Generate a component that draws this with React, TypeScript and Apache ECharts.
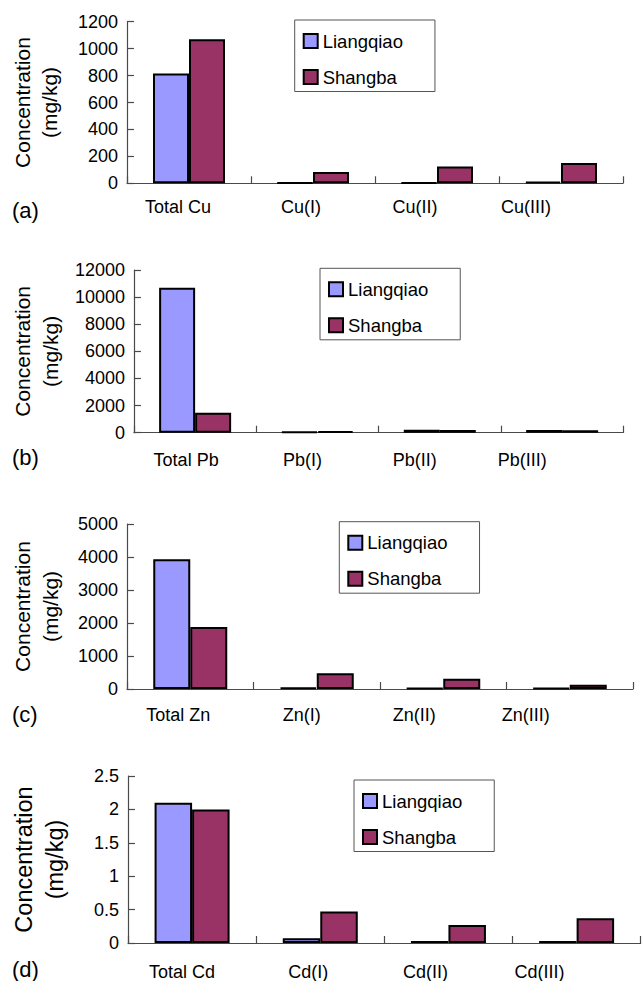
import React, { useEffect, useRef } from "react";
import * as echarts from "echarts";

// ---------- data ----------
const SERIES_NAMES = ["Liangqiao", "Shangba"];

const CU_CATEGORIES = ["Total Cu", "Cu(I)", "Cu(II)", "Cu(III)"];
const CU_LIANGQIAO = [815, 3, 5, 12];
const CU_SHANGBA = [1070, 84, 124, 151];

const PB_CATEGORIES = ["Total Pb", "Pb(I)", "Pb(II)", "Pb(III)"];
const PB_LIANGQIAO = [10700, 60, 210, 200];
const PB_SHANGBA = [1480, 110, 190, 180];

const ZN_CATEGORIES = ["Total Zn", "Zn(I)", "Zn(II)", "Zn(III)"];
const ZN_LIANGQIAO = [3930, 45, 25, 25];
const ZN_SHANGBA = [1880, 480, 310, 130];

const CD_CATEGORIES = ["Total Cd", "Cd(I)", "Cd(II)", "Cd(III)"];
const CD_LIANGQIAO = [2.1, 0.07, 0.03, 0.03];
const CD_SHANGBA = [2.0, 0.47, 0.27, 0.37];

const Y_MAX = [1200, 12000, 5000, 2.5];
const Y_INTERVAL = [200, 2000, 1000, 0.5];
const PANEL_LETTERS = ["(a)", "(b)", "(c)", "(d)"];
const Y_TITLE = "Concentration\n(mg/kg)";

const CATEGORIES = [CU_CATEGORIES, PB_CATEGORIES, ZN_CATEGORIES, CD_CATEGORIES];
const LIANGQIAO = [CU_LIANGQIAO, PB_LIANGQIAO, ZN_LIANGQIAO, CD_LIANGQIAO];
const SHANGBA = [CU_SHANGBA, PB_SHANGBA, ZN_SHANGBA, CD_SHANGBA];

// ---------- layout / style ----------
const FONT = "'Liberation Sans', Arial, Helvetica, sans-serif";
const COLORS = ["#9999FF", "#993366"];
const AXIS_COLOR = "#4a4a4a";

const LAYOUT = [
  { left: 127, top: 21.7, width: 496, height: 161.6, barWidth: 36, shifts: [-11, -12, -22, -35], labelMargin: 15, legendLeft: 294.7, legendTop: 20, nameGap: 64, nameSize: 21, nameLH: 27, letterY: 210 },
  { left: 128, top: 270, width: 495.3, height: 162.7, barWidth: 36, shifts: [-9, -15, -25, -40], labelMargin: 18.5, legendLeft: 320, legendTop: 268.3, nameGap: 63, nameSize: 21, nameLH: 28, letterY: 457 },
  { left: 126, top: 524, width: 507, height: 165, barWidth: 37, shifts: [-12, -15, -29, -44], labelMargin: 16.5, legendLeft: 339.3, legendTop: 521.7, nameGap: 63, nameSize: 21, nameLH: 28, letterY: 714 },
  { left: 126, top: 776, width: 514.7, height: 168, barWidth: 37.5, shifts: [-10, -12, -23, -37], labelMargin: 20, legendLeft: 354, legendTop: 780, nameGap: 58, nameSize: 23.5, nameLH: 31, letterY: 969 },
];

export default function App() {
  const ref = useRef<HTMLDivElement>(null);

  useEffect(() => {
    if (!ref.current) return;
    const chart = echarts.init(ref.current, null, { renderer: "svg" });

    const grid: any[] = [];
    const xAxis: any[] = [];
    const yAxis: any[] = [];
    const series: any[] = [];
    const legend: any[] = [];
    const graphic: any[] = [];

    LAYOUT.forEach((L, i) => {
      grid.push({ left: L.left, top: L.top, width: L.width, height: L.height, containLabel: false });

      const rich: any = {};
      L.shifts.forEach((s, k) => {
        rich["l" + k] = { fontSize: 18, fontFamily: FONT, color: "#000", padding: [0, -2 * s, 0, 0] };
      });

      xAxis.push({
        type: "category",
        gridIndex: i,
        data: CATEGORIES[i],
        axisLine: { show: true, lineStyle: { color: AXIS_COLOR, width: 1.2 } },
        axisTick: { show: true, inside: true, length: 7, lineStyle: { color: AXIS_COLOR, width: 1.2 } },
        axisLabel: {
          interval: 0,
          margin: L.labelMargin,
          formatter: (v: string, idx: number) => `{l${idx}|${v}}`,
          rich,
        },
        splitLine: { show: false },
      });

      yAxis.push({
        type: "value",
        gridIndex: i,
        min: 0,
        max: Y_MAX[i],
        interval: Y_INTERVAL[i],
        name: Y_TITLE,
        nameLocation: "middle",
        nameRotate: 90,
        nameGap: L.nameGap,
        nameTextStyle: { fontSize: L.nameSize, lineHeight: L.nameLH, color: "#000", fontFamily: FONT },
        axisLine: { show: true, lineStyle: { color: AXIS_COLOR, width: 1.2 } },
        axisTick: { show: true, inside: true, length: 7, lineStyle: { color: AXIS_COLOR, width: 1.2 } },
        axisLabel: {
          fontSize: 18,
          color: "#000",
          fontFamily: FONT,
          margin: 9,
          formatter: (v: number) => String(v),
        },
        splitLine: { show: false },
      });

      [LIANGQIAO[i], SHANGBA[i]].forEach((vals, s) => {
        series.push({
          type: "bar",
          name: SERIES_NAMES[s],
          xAxisIndex: i,
          yAxisIndex: i,
          data: vals,
          barWidth: L.barWidth,
          barGap: "0%",
          itemStyle: { color: COLORS[s], borderColor: "#000", borderWidth: 2 },
          emphasis: { disabled: true },
        });
      });

      legend.push({
        data: SERIES_NAMES,
        orient: "vertical",
        left: L.legendLeft,
        top: L.legendTop,
        padding: [11.5, 32, 5, 8],
        itemGap: 17,
        itemWidth: 14,
        itemHeight: 14,
        icon: "rect",
        borderColor: "#555",
        borderWidth: 1,
        selectedMode: false,
        itemStyle: { borderColor: "#000", borderWidth: 2 },
        textStyle: { fontSize: 18.5, color: "#000", fontFamily: FONT },
      });

      graphic.push({
        type: "text",
        x: 12,
        y: L.letterY,
        style: { text: PANEL_LETTERS[i], fontSize: 22, fontFamily: FONT, fill: "#000", verticalAlign: "middle" },
      });
    });

    chart.setOption({
      animation: false,
      backgroundColor: "#fff",
      grid,
      xAxis,
      yAxis,
      series,
      legend,
      graphic,
    });

    return () => chart.dispose();
  }, []);

  return (
    <div
      ref={ref}
      style={{ position: "absolute", left: 0, top: 0, width: 642, height: 981, background: "#fff" }}
    />
  );
}
